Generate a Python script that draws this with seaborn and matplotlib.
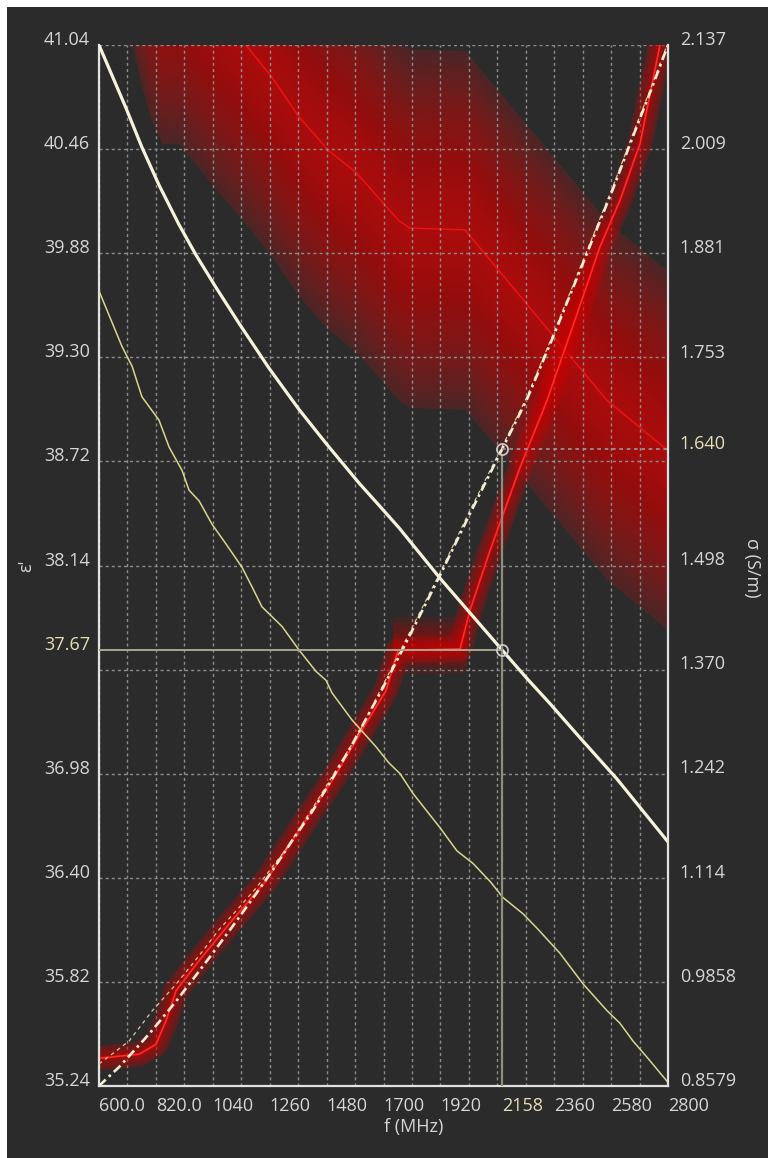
import numpy as np
import matplotlib
matplotlib.use("Agg")
import matplotlib.pyplot as plt
import seaborn as sns
from matplotlib.patches import Rectangle

# --- data ---
# permittivity, measured (white, thick) - left axis
freq_eps_a = [600, 704, 766, 832, 909, 975, 1052, 1141, 1257, 1373, 1478, 1605,
              1686, 1760, 1918, 2158, 2255, 2344, 2460, 2603, 2800]
eps_a = [41.04, 40.69, 40.47, 40.26, 40.04, 39.87, 39.69, 39.49, 39.24, 39.01, 38.82,
         38.60, 38.47, 38.35, 38.07, 37.67, 37.51, 37.37, 37.18, 36.95, 36.60]

# permittivity, second trace (yellow, thin) - left axis
freq_eps_b = [600, 689, 728, 766, 832, 871, 921, 948, 987, 1037, 1091, 1153, 1192,
              1230, 1308, 1373, 1439, 1478, 1501, 1578, 1671, 1721, 1764, 1814, 1918,
              1984, 2046, 2112, 2162, 2239, 2293, 2382, 2471, 2564, 2614, 2665, 2719, 2800]
eps_b = [39.67, 39.36, 39.25, 39.08, 38.95, 38.80, 38.67, 38.56, 38.50, 38.37, 38.26,
         38.13, 38.02, 37.91, 37.80, 37.67, 37.55, 37.50, 37.43, 37.28, 37.13, 37.04,
         36.98, 36.87, 36.68, 36.55, 36.48, 36.38, 36.29, 36.20, 36.12, 35.98, 35.81,
         35.66, 35.59, 35.49, 35.40, 35.26]

# conductivity, measured (white dash-dot) - right axis
freq_sig_a = [600, 677, 766, 805, 898, 975, 1037, 1114, 1207, 1269, 1346, 1424, 1501,
              1578, 1694, 1791, 1918, 2034, 2158, 2255, 2363, 2498, 2587, 2665, 2742, 2800]
sig_a = [0.858, 0.881, 0.912, 0.926, 0.962, 0.994, 1.020, 1.053, 1.094, 1.122, 1.159,
         1.195, 1.235, 1.277, 1.345, 1.405, 1.485, 1.561, 1.640, 1.702, 1.784, 1.890,
         1.960, 2.025, 2.088, 2.137]

# conductivity, second trace (yellow thin dashed) - right axis
freq_sig_b = [600, 716, 805, 898, 987, 1064, 1141, 1207, 1323, 1439, 1528, 1605, 1694,
              1791, 1918, 2034, 2158, 2255, 2363, 2498, 2587, 2665, 2742, 2800]
sig_b = [0.885, 0.913, 0.950, 0.983, 1.018, 1.050, 1.077, 1.101, 1.149, 1.206, 1.252,
         1.292, 1.348, 1.409, 1.488, 1.565, 1.643, 1.705, 1.787, 1.893, 1.963, 2.028,
         2.091, 2.140]

# target permittivity with tolerance (big red band)
ref_eps_f = [701, 724, 766, 805, 844, 909, 1025, 1168, 1269, 1373, 1489, 1594, 1760,
             1802, 2015, 2564, 2800]
ref_eps = [42.21, 42.06, 41.80, 41.61, 41.49, 41.49, 41.28, 41.04, 40.86, 40.64, 40.45,
           40.33, 40.06, 40.02, 40.01, 39.06, 38.78]
ref_eps_tol = 1.0

# target conductivity (narrow red band)
ref_sig_f = [600, 755, 820, 859, 898, 987, 1114, 1246, 1373, 1501, 1632, 1710, 1756,
             1996, 2034, 2112, 2228, 2332, 2440, 2537, 2614, 2692, 2769, 2800]
ref_sig = [0.892, 0.897, 0.909, 0.938, 0.975, 1.012, 1.061, 1.110, 1.172, 1.233, 1.303,
           1.344, 1.393, 1.395, 1.442, 1.516, 1.618, 1.700, 1.799, 1.889, 1.946, 2.016,
           2.137, 2.168]
plateau_f = [1737, 2023]
plateau_sig = 1.399
plateau_tol = 0.035

# cursor
cursor_f = 2158
cursor_eps = 37.67
cursor_sig = 1.640

x_ticks = [600, 820, 1040, 1260, 1480, 1700, 1920, 2158, 2360, 2580, 2800]
x_labels = ["600.0", "820.0", "1040", "1260", "1480", "1700", "1920", "2158",
            "2360", "2580", "2800"]
x_grid = list(range(600, 2801, 110))
eps_ticks = [41.04, 40.46, 39.88, 39.30, 38.72, 38.14, 37.67, 36.98, 36.40, 35.82, 35.24]
eps_grid = [41.04, 40.46, 39.88, 39.30, 38.72, 38.14, 37.56, 36.98, 36.40, 35.82, 35.24]
sig_ticks = [2.137, 2.009, 1.881, 1.753, 1.640, 1.498, 1.370, 1.242, 1.114, 0.9858, 0.8579]
sig_labels = ["2.137", "2.009", "1.881", "1.753", "1.640", "1.498", "1.370", "1.242",
              "1.114", "0.9858", "0.8579"]

BG = "#2b2b2b"
TXT = "#d6d6d6"
CUR = "#e4e0b4"
FS = 13

sns.set_theme(style="dark")
plt.rcParams["font.family"] = ["Open Sans", "DejaVu Sans"]
plt.rcParams["xtick.alignment"] = "left"
plt.rcParams["ytick.alignment"] = "baseline"

fig = plt.figure(figsize=(7.68, 11.58), dpi=100, facecolor="white")
fig.patches.append(Rectangle((7 / 768, 0), 1, 1 - 7 / 1158, transform=fig.transFigure,
                             facecolor=BG, edgecolor="none", zorder=-10))
ax = fig.add_axes([99 / 768, 1 - 1086 / 1158, 569 / 768, 1041 / 1158])
ax2 = ax.twinx()
ax.set_facecolor(BG)
ax.set_xlim(600, 2800)
ax.set_ylim(35.24, 41.04)
ax2.set_ylim(0.8579, 2.137)
tr = ax2.transData

# big red band: target permittivity +- tolerance, brighter towards the middle
f = np.array(ref_eps_f)
c = np.array(ref_eps)
ax.fill_between(f, c - ref_eps_tol, c + ref_eps_tol, color="#b81212", alpha=0.2, lw=0, zorder=0.5)
for k in np.linspace(1, 0.02, 40):
    ax.fill_between(f, c - ref_eps_tol * k, c + ref_eps_tol * k,
                    color="#d80c0c", alpha=0.034, lw=0, zorder=0.5)
ax.plot(ref_eps_f, ref_eps, color="#ee1212", lw=1.1, zorder=0.6)

# grid
for xv in x_grid:
    ax.axvline(xv, color="#8c8c8c", lw=1, ls=(0, (2.2, 2.2)), zorder=1)
for yv in eps_grid:
    ax.axhline(yv, color="#8c8c8c", lw=1, ls=(0, (2.2, 2.2)), zorder=1)

# narrow red band: target conductivity (glow)
for k in np.linspace(1, 0.2, 5):
    ax.fill_between(plateau_f, plateau_sig - plateau_tol * k, plateau_sig + plateau_tol * k,
                    color="#c80000", alpha=0.14, lw=0, zorder=2, transform=tr)
for lw, a in [(18, 0.25), (15, 0.12), (12, 0.12), (9, 0.14), (6, 0.18), (3, 0.3)]:
    ax.plot(ref_sig_f, ref_sig, color="#d40000", lw=lw, alpha=a, transform=tr,
            solid_capstyle="butt", solid_joinstyle="round", zorder=2)
ax.plot(ref_sig_f, ref_sig, color="#ff2a2a", lw=1.2, transform=tr, zorder=2.1)

# conductivity traces
sns.lineplot(x=freq_sig_b, y=sig_b, ax=ax, estimator=None, sort=False, color="#cfcd95",
             lw=0.9, linestyle=(0, (3, 3)), transform=tr, zorder=3)
sns.lineplot(x=freq_sig_a, y=sig_a, ax=ax, estimator=None, sort=False, color="#f1edd2",
             lw=1.9, linestyle=(0, (3.5, 1.6, 1, 1.6)), transform=tr, zorder=3.5)

# permittivity traces
sns.lineplot(x=freq_eps_b, y=eps_b, ax=ax, estimator=None, sort=False, color="#d9d58e",
             lw=1.1, zorder=4)
sns.lineplot(x=freq_eps_a, y=eps_a, ax=ax, estimator=None, sort=False, color="#f6f3da",
             lw=2.3, zorder=4.5)

# cursor
ax.plot([cursor_f, cursor_f], [0.8579, cursor_sig - 0.008], color="#8e8e7c", lw=1.6,
        transform=tr, zorder=5)
ax.plot([600, cursor_f], [cursor_eps, cursor_eps], color="#a6a690", lw=1.4, zorder=5)
ax.plot([cursor_f, 2800], [cursor_sig, cursor_sig], color="#9a9a9a", lw=1.2,
        ls=(0, (2.2, 2.2)), transform=tr, zorder=5)
ax.plot([cursor_f], [cursor_eps], "o", mfc="none", mec="#c8c8c8", mew=1.3, ms=8, zorder=6)
ax.plot([cursor_f], [cursor_sig], "o", mfc="none", mec="#c8c8c8", mew=1.3, ms=8,
        transform=tr, zorder=6)

# axes styling
for a_ in (ax, ax2):
    for side in ("top", "left", "right", "bottom"):
        a_.spines[side].set_visible(False)
ax.spines["left"].set_visible(True)
ax.spines["bottom"].set_visible(True)
ax2.spines["right"].set_visible(True)
for sp in (ax.spines["left"], ax.spines["bottom"], ax2.spines["right"]):
    sp.set_color("#e2e2e2")
    sp.set_linewidth(1.6)
ax.grid(False)
ax2.grid(False)

ax.set_xticks(x_ticks, x_labels)
ax.set_yticks(eps_ticks, [f"{v:.2f}" for v in eps_ticks])
ax2.set_yticks(sig_ticks, sig_labels)
ax.tick_params(axis="x", length=0, pad=8, labelsize=FS, colors=TXT)
ax.tick_params(axis="y", length=0, pad=6.5, labelsize=FS, colors=TXT)
ax2.tick_params(axis="y", length=0, pad=8.5, labelsize=FS, colors=TXT)
ax.get_xticklabels()[x_ticks.index(cursor_f)].set_color(CUR)
ax.get_yticklabels()[eps_ticks.index(cursor_eps)].set_color(CUR)
ax2.get_yticklabels()[sig_ticks.index(cursor_sig)].set_color(CUR)

ax.set_xlabel("f (MHz)", fontsize=FS, color=TXT, ha="left", va="top")
ax.xaxis.set_label_coords(0.5, -0.031)
ax.set_ylabel("")
ax2.set_ylabel("")
fig.text(26 / 768, 1 - 566 / 1158, "ε'", rotation=90, fontsize=FS, color=TXT,
         ha="center", va="center")
fig.text(752 / 768, 1 - 568 / 1158, "σ (S/m)", rotation=270, fontsize=FS, color=TXT,
         ha="center", va="center")

fig.savefig("out.png", dpi=100, facecolor=fig.get_facecolor())
